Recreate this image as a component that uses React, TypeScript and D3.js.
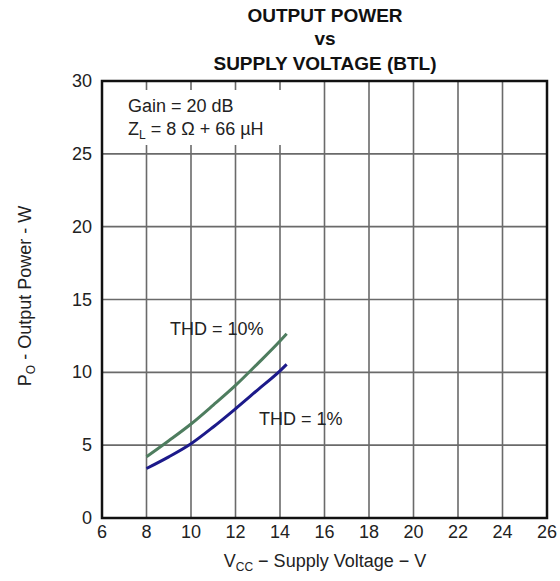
import React from "react";
import * as d3 from "d3";

const xTicks = [6, 8, 10, 12, 14, 16, 18, 20, 22, 24, 26];
const yTicks = [0, 5, 10, 15, 20, 25, 30];

const thd10V = [8, 9, 10, 11, 12, 13, 14, 14.3];
const thd10P = [4.2, 5.3, 6.45, 7.75, 9.1, 10.6, 12.15, 12.65];
const thd1V = [8, 9, 10, 11, 12, 13, 14, 14.3];
const thd1P = [3.4, 4.2, 5.1, 6.25, 7.5, 8.8, 10.1, 10.55];

const W = 560, H = 581;
const L = 102, R = 547, T = 81, B = 518;
const FONT = "'Liberation Sans', Arial, Helvetica, sans-serif";

export default function App() {
  const x = d3.scaleLinear().domain([6, 26]).range([L, R]);
  const y = d3.scaleLinear().domain([0, 30]).range([B, T]);
  const line = d3
    .line<[number, number]>()
    .x((d) => x(d[0]))
    .y((d) => y(d[1]))
    .curve(d3.curveMonotoneX);
  const g10 = thd10V.map((v, i) => [v, thd10P[i]] as [number, number]);
  const g1 = thd1V.map((v, i) => [v, thd1P[i]] as [number, number]);

  return (
    <svg
      width={W}
      height={H}
      style={{ position: "absolute", left: 0, top: 0, background: "#fff" }}
      fontFamily={FONT}
    >
      <rect x={0} y={0} width={W} height={H} fill="#fff" />
      {/* title */}
      <g fontWeight="bold" fontSize={19} textAnchor="middle" fill="#111">
        <text x={325} y={22}>OUTPUT POWER</text>
        <text x={325} y={45}>vs</text>
        <text x={325} y={70}>SUPPLY VOLTAGE (BTL)</text>
      </g>
      {/* grid */}
      <g stroke="#6a6a6a" strokeWidth={1.6}>
        {xTicks.slice(1, -1).map((t) => (
          <line key={"x" + t} x1={x(t)} x2={x(t)} y1={T} y2={B} />
        ))}
        {yTicks.slice(1, -1).map((t) => (
          <line key={"y" + t} x1={L} x2={R} y1={y(t)} y2={y(t)} />
        ))}
      </g>
      {/* annotation box background */}
      <rect x={L + 2} y={90} width={196} height={55} fill="#fff" />
      <g fontSize={18} fill="#222">
        <text x={128} y={112}>Gain = 20 dB</text>
        <text x={128} y={135}>
          Z<tspan fontSize={12} dy={4}>L</tspan>
          <tspan dy={-4}> = 8 Ω + 66 µH</tspan>
        </text>
      </g>
      {/* curves */}
      <path d={line(g10) || ""} fill="none" stroke="#4e7d5f" strokeWidth={3} />
      <path d={line(g1) || ""} fill="none" stroke="#1c1a8a" strokeWidth={3} />
      <g fontSize={18} fill="#222">
        <text x={170} y={335}>THD = 10%</text>
        <text x={259} y={425}>THD = 1%</text>
      </g>
      {/* border */}
      <rect x={L} y={T} width={R - L} height={B - T} fill="none" stroke="#111" strokeWidth={2.5} />
      {/* tick labels */}
      <g fontSize={18} fill="#222">
        {xTicks.map((t) => (
          <text key={"xl" + t} x={x(t)} y={538} textAnchor="middle">
            {t}
          </text>
        ))}
        {yTicks.map((t) => (
          <text key={"yl" + t} x={92} y={y(t) + 6} textAnchor="end">
            {t}
          </text>
        ))}
      </g>
      {/* axis titles */}
      <text x={325} y={567} fontSize={18} fill="#222" textAnchor="middle">
        V<tspan fontSize={12} dy={4}>CC</tspan>
        <tspan dy={-4}> − Supply Voltage − V</tspan>
      </text>
      <text
        transform={`translate(31,296) rotate(-90)`}
        fontSize={18}
        fill="#222"
        textAnchor="middle"
      >
        P<tspan fontSize={12} dy={4}>O</tspan>
        <tspan dy={-4}> - Output Power - W</tspan>
      </text>
    </svg>
  );
}
